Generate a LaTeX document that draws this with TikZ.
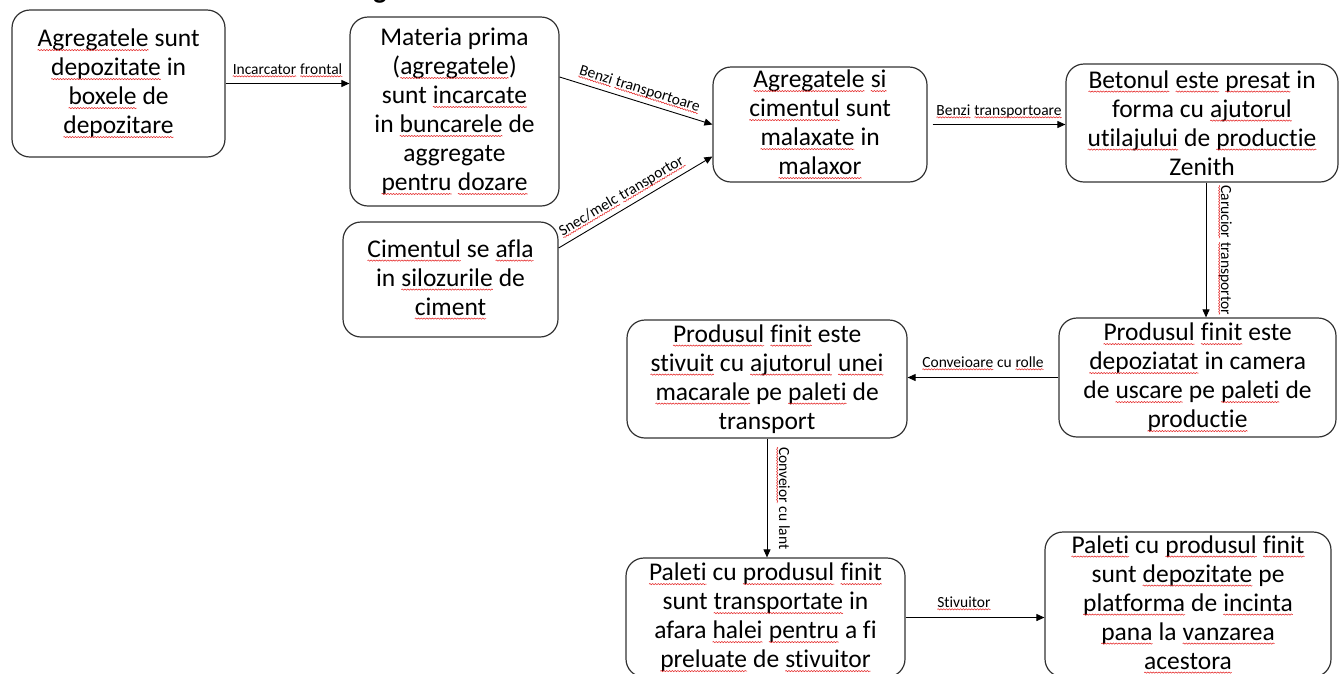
\documentclass[tikz,border=0pt]{standalone}
\usepackage{fontspec}
\setmainfont{Carlito}[Ligatures=NoCommon]
\usetikzlibrary{arrows.meta,decorations.pathmorphing,calc}
\definecolor{sqred}{RGB}{228,40,40}
\definecolor{boxline}{RGB}{50,50,50}
\newcommand\boxfont{\fontsize{25.5}{29}\selectfont}
\newcommand\lblfont{\fontsize{15.5}{18}\selectfont}
\newcommand\sq[1]{\edef\sqoff{\the\dimexpr0.13em\relax}\tikz[baseline=(sqw.base),reset cm]{\node[inner sep=0pt,outer sep=0pt,draw=none,fill=none,minimum width=0pt,minimum height=0pt,anchor=base,rotate=0](sqw){#1};\draw[-,sqred,line width=0.55pt,sharp corners,shorten <=0pt,shorten >=0pt,decorate,decoration={snake,amplitude=0.6pt,segment length=2.8pt}]([yshift=-\sqoff]sqw.base west)--([yshift=-\sqoff]sqw.base east);}}
\begin{document}
\begin{tikzpicture}[x=1pt,y=-1pt,
  box/.style={draw=boxline,line width=1.2pt,rounded corners=18pt,inner sep=0pt,align=center,font=\boxfont},
  arr/.style={draw=black,line width=0.9pt,-{Triangle[length=8pt,width=7pt]}},
  lbl/.style={font=\lblfont,inner sep=0pt,text depth=0pt}]
\useasboundingbox (0,0) rectangle (1339,673);
\clip (0,0) rectangle (1339,673);

\node[font=\fontsize{28}{30}\selectfont\bfseries,anchor=base,inner sep=0pt] (hd) at (380,-2) {g};

\node[box,minimum width=213pt,minimum height=147pt] (b1) at (118.5,83.5)
  {\sq{Agregatele} sunt\\\sq{depozitate} in\\\sq{boxele} de\\\sq{depozitare}};
\node[box,minimum width=209pt,minimum height=189pt] (b2) at (454.5,111.5)
  {Materia prima\\(\sq{agregatele})\\sunt \sq{incarcate}\\in \sq{buncarele} de\\aggregate\\\sq{pentru} \sq{dozare}};
\node[box,minimum width=215pt,minimum height=115pt] (b3) at (450.5,279.5)
  {\sq{Cimentul} se \sq{afla}\\in \sq{silozurile} de\\\sq{ciment}};
\node[box,minimum width=214pt,minimum height=115pt] (b4) at (820,124.5)
  {\sq{Agregatele} \sq{si}\\\sq{cimentul} sunt\\\sq{malaxate} in\\\sq{malaxor}};
\node[box,minimum width=272pt,minimum height=118pt] (b5) at (1202,123)
  {\sq{Betonul} \sq{este} \sq{presat} in\\forma cu \sq{ajutorul}\\\sq{utilajului} de \sq{productie}\\Zenith};
\node[box,minimum width=277pt,minimum height=119pt] (b6) at (1197.5,377.5)
  {\sq{Produsul} \sq{finit} este\\\sq{depoziatat} in camera\\de \sq{uscare} pe \sq{paleti} de\\\sq{productie}};
\node[box,minimum width=280pt,minimum height=118pt] (b7) at (767,379)
  {\sq{Produsul} \sq{finit} este\\\sq{stivuit} cu \sq{ajutorul} \sq{unei}\\\sq{macarale} pe \sq{paleti} de\\transport};
\node[box,minimum width=279pt,minimum height=119pt] (b8) at (765.5,617.5)
  {\sq{Paleti} cu \sq{produsul} \sq{finit}\\sunt \sq{transportate} in\\afara \sq{halei} \sq{pentru} a fi\\\sq{preluate} de \sq{stivuitor}};
\node[box,minimum width=286pt,minimum height=145pt] (b9) at (1188,604.5)
  {\sq{Paleti} cu \sq{produsul} \sq{finit}\\sunt \sq{depozitate} pe\\\sq{platforma} de \sq{incinta}\\\sq{pana} la \sq{vanzarea}\\\sq{acestora}};

\coordinate (a2s) at ([yshift=34.5pt]b2.east);
\coordinate (a3s) at ([yshift=31.5pt]b3.east);
\coordinate (a3e) at ([yshift=-32pt]b4.west);
\coordinate (a5s) at ([xshift=4pt]b5.south);

\draw[arr] (b1.east) -- (b1.east -| b2.west);
\draw[arr] (a2s) -- (b4.west);
\draw[arr] (a3s) -- (a3e);
\draw[arr,shorten <=5pt] (b4.east) -- (b4.east -| b5.west);
\draw[arr] (a5s) -- (a5s |- b6.north);
\draw[arr] (b6.west) -- (b6.west -| b7.east);
\draw[arr] (b7.south) -- (b7.south |- b8.north);
\draw[arr] (b8.east) -- (b8.east -| b9.west);

\path (b1.east) -- node[lbl,above=9pt] (l1) {\sq{Incarcator} \sq{frontal}} (b1.east -| b2.west);
\path (a2s) -- node[lbl,sloped,above=8pt,midway] (l2) {\sq{Benzi} \sq{transportoare}} (b4.west);
\path (a3s) -- node[lbl,sloped,above=8pt,pos=0.45] (l3) {\sq{Snec/melc} \sq{transportor}} (a3e);
\path ([xshift=5pt]b4.east) -- node[lbl,above=9pt] (l4) {\sq{Benzi} \sq{transportoare}} (b4.east -| b5.west);
\path (a5s) -- node[lbl,sloped,above=15pt,midway] (l5) {\sq{Carucior} \sq{transportor}} (a5s |- b6.north);
\path (b6.west) -- node[lbl,above=10pt] (l6) {\sq{Conveioare} cu \sq{rolle}} (b6.west -| b7.east);
\path (b7.south) -- node[lbl,sloped,above=12pt] (l7) {\sq{Conveior} cu lant} (b7.south |- b8.north);
\path (b8.east) -- node[lbl,above=10pt,pos=0.42] (l8) {\sq{Stivuitor}} (b8.east -| b9.west);
\end{tikzpicture}
\end{document}
